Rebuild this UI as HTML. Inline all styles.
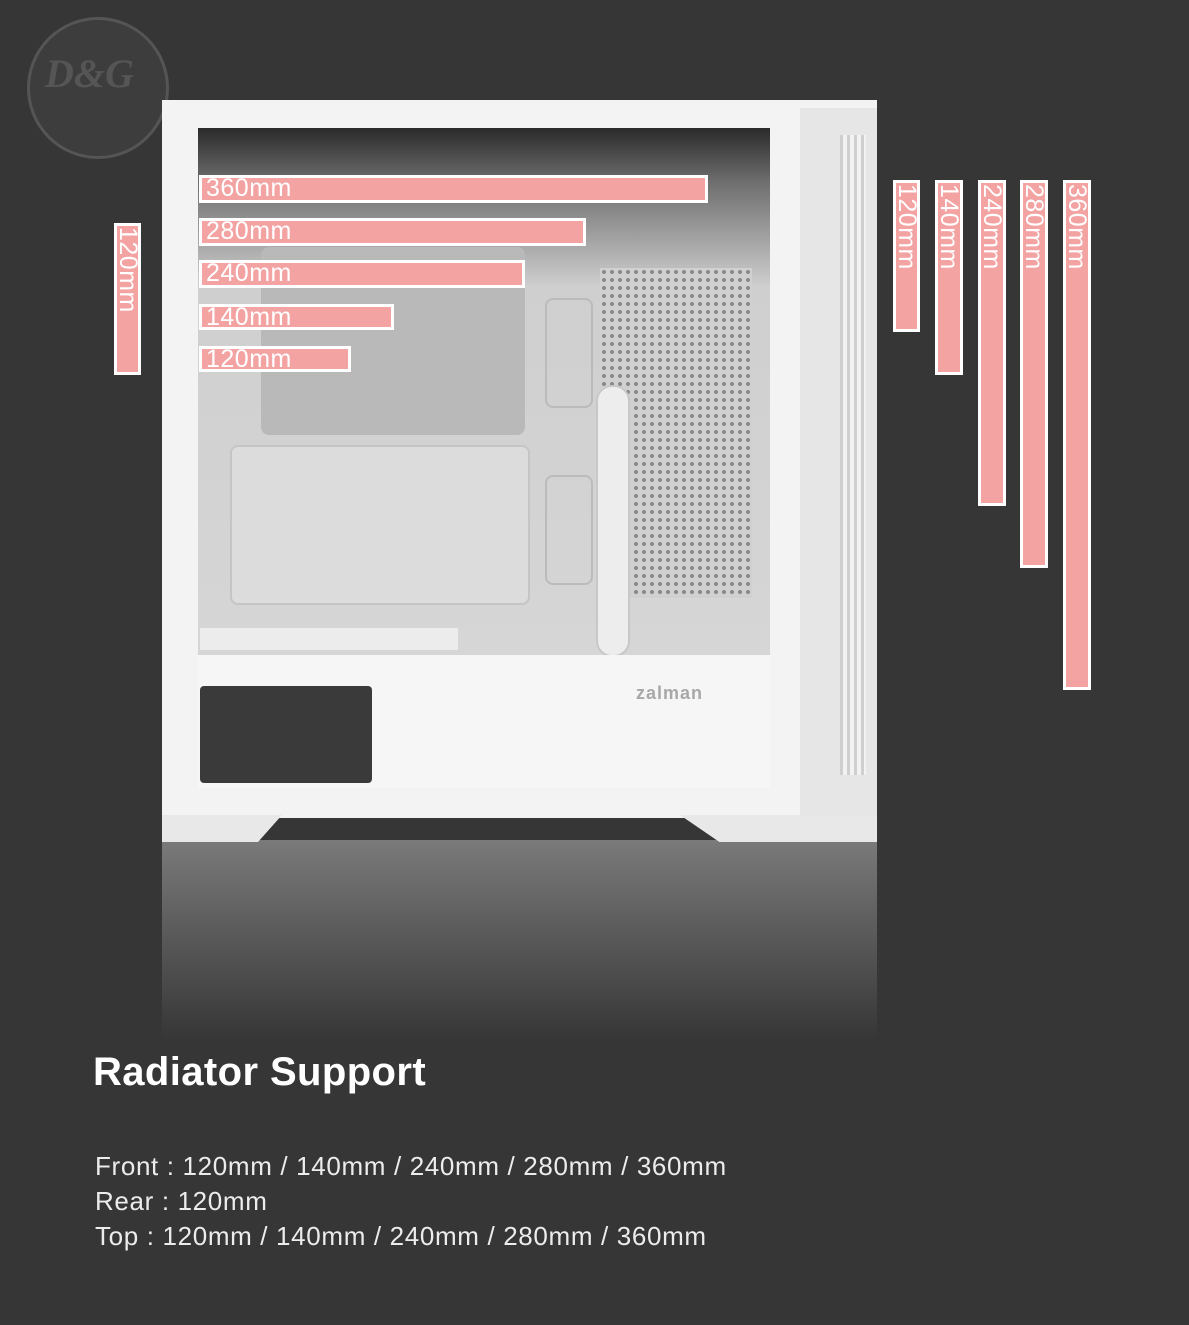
<!DOCTYPE html>
<html><head><meta charset="utf-8"><style>
*{margin:0;padding:0;box-sizing:border-box}
body{width:1189px;height:1325px;background:#363636;position:relative;overflow:hidden;font-family:"Liberation Sans","Noto Sans CJK KR",sans-serif}
.a{position:absolute}
.bar{position:absolute;background:#f4a3a3;border:3px solid #fff;color:#fff;font-size:25px;line-height:20px;padding-left:4px;white-space:nowrap;overflow:hidden;letter-spacing:0.5px}
.v{position:absolute;background:#f4a3a3;border:3px solid #fff;overflow:hidden}
.v span{position:absolute;left:22px;top:0;transform-origin:0 0;transform:rotate(90deg);color:#fff;font-size:25px;line-height:22px;white-space:nowrap;padding-left:1px;letter-spacing:0.5px}
.t{position:absolute;color:#ececec;font-size:26px;left:95px;letter-spacing:0.65px}
</style></head><body>
<div class="a" style="left:27px;top:17px;width:142px;height:142px;border-radius:50%;border:3px solid #555;background:#3d3d3d"></div>
<div class="a" style="left:45px;top:50px;color:#555;font:italic bold 40px 'Liberation Serif',serif">D&amp;G</div>
<div class="a" style="left:162px;top:840px;width:715px;height:200px;background:linear-gradient(#7a7a7a,#363636)"></div>
<div class="a" style="left:162px;top:100px;width:715px;height:718px;background:#f3f3f3"></div>
<div class="a" style="left:800px;top:108px;width:77px;height:710px;background:#e6e6e6"></div>
<div class="a" style="left:840px;top:135px;width:26px;height:640px;background:repeating-linear-gradient(90deg,#cfcfcf 0 3px,#f2f2f2 3px 7px)"></div>
<div class="a" style="left:162px;top:815px;width:120px;height:27px;background:#e8e8e8;clip-path:polygon(0 0,100% 0,80% 100%,0 100%)"></div>
<div class="a" style="left:680px;top:815px;width:197px;height:27px;background:#e8e8e8;clip-path:polygon(0 0,100% 0,100% 100%,20% 100%)"></div>
<div class="a" style="left:198px;top:128px;width:572px;height:530px;background:linear-gradient(#2a2a2a 0,#6d6d6d 10%,#cfcfcf 30%,#d6d6d6 100%)"></div>
<div class="a" style="left:261px;top:247px;width:264px;height:188px;background:#b9b9b9;border-radius:8px"></div>
<div class="a" style="left:230px;top:445px;width:300px;height:160px;background:#dcdcdc;border:2px solid #c5c5c5;border-radius:8px"></div>
<div class="a" style="left:600px;top:268px;width:152px;height:330px;background:radial-gradient(circle,#888 1.8px,#d0d0d0 2.2px) 0 0/8px 8px"></div>
<div class="a" style="left:545px;top:298px;width:48px;height:110px;border:2px solid #bbb;border-radius:8px"></div>
<div class="a" style="left:545px;top:475px;width:48px;height:110px;border:2px solid #bbb;border-radius:8px"></div>
<div class="a" style="left:596px;top:385px;width:34px;height:272px;background:#ededed;border:2px solid #c8c8c8;border-radius:16px"></div>
<div class="a" style="left:200px;top:628px;width:258px;height:22px;background:#ececec"></div>
<div class="a" style="left:198px;top:655px;width:572px;height:133px;background:#f6f6f6"></div>
<div class="a" style="left:200px;top:686px;width:172px;height:97px;background:#3a3a3a;border-radius:4px"></div>
<div class="a" style="left:636px;top:683px;color:#a8a8a8;font:bold 18px 'Liberation Sans',sans-serif;letter-spacing:1px">zalman</div>
<div class="bar" style="left:199px;top:175px;width:509px;height:28px">360mm</div>
<div class="bar" style="left:199px;top:218px;width:387px;height:28px">280mm</div>
<div class="bar" style="left:199px;top:260px;width:326px;height:28px">240mm</div>
<div class="bar" style="left:199px;top:304px;width:195px;height:26px">140mm</div>
<div class="bar" style="left:199px;top:346px;width:152px;height:26px">120mm</div>
<div class="v" style="left:114px;top:223px;width:27px;height:152px"><span>120mm</span></div>
<div class="v" style="left:893px;top:180px;width:27px;height:152px"><span>120mm</span></div>
<div class="v" style="left:935px;top:180px;width:28px;height:195px"><span>140mm</span></div>
<div class="v" style="left:978px;top:180px;width:28px;height:326px"><span>240mm</span></div>
<div class="v" style="left:1020px;top:180px;width:28px;height:388px"><span>280mm</span></div>
<div class="v" style="left:1063px;top:180px;width:28px;height:510px"><span>360mm</span></div>
<div class="a" style="left:93px;top:1050px;color:#fff;font-size:40px;font-weight:bold;letter-spacing:0.4px">Radiator Support</div>
<div class="t" style="top:1151px">Front : 120mm / 140mm / 240mm / 280mm / 360mm</div>
<div class="t" style="top:1186px">Rear : 120mm</div>
<div class="t" style="top:1221px">Top : 120mm / 140mm / 240mm / 280mm / 360mm</div>
</body></html>
